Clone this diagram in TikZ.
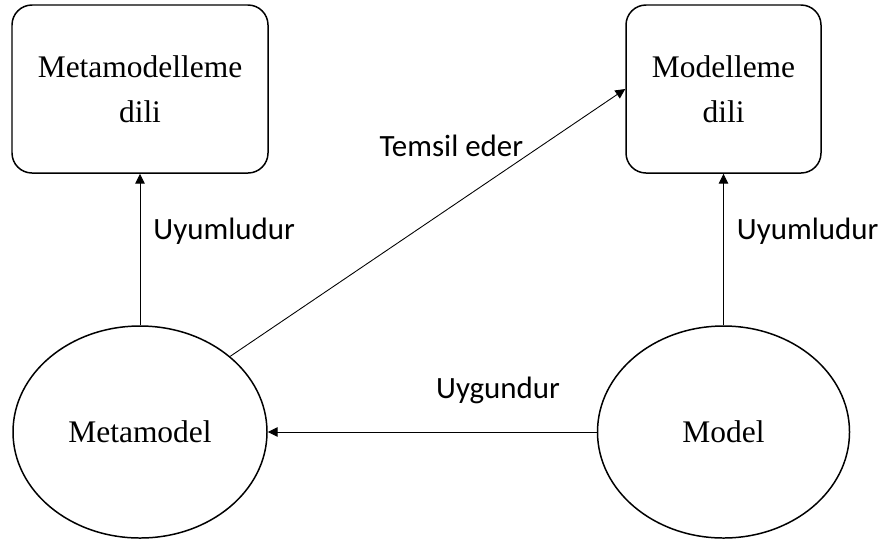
\documentclass[tikz,border=0pt]{standalone}
\usepackage{fontspec}
\setmainfont{Liberation Serif}
\newfontfamily\calibri{Carlito}
\usepackage{tikz}
\usetikzlibrary{arrows.meta, shapes.geometric, positioning}
\tikzstyle{kutu} = [draw, rounded corners=0.4cm, line width=0.85pt, inner sep=0pt, align=center, font=\fontsize{17.9}{25.6}\selectfont]
\tikzstyle{elips} = [draw, ellipse, line width=0.85pt, inner sep=0pt, font=\fontsize{17.9}{25.6}\selectfont]
\tikzstyle{ok} = [-{Triangle[length=5.6pt,width=5.4pt]}, line width=0.5pt]
\tikzstyle{etiket} = [inner sep=0pt, font=\calibri\fontsize{17.6}{21}\selectfont]

\begin{document}
\begin{tikzpicture}
	\useasboundingbox (0,0) rectangle (17.68,10.84);

	\node[kutu, minimum width=5.12cm, minimum height=3.36cm] (MML) at (2.8,9.06) {Metamodelleme\\dili};
	\node[kutu, minimum width=3.9cm, minimum height=3.36cm] (ML) at (14.47,9.06) {Modelleme\\dili};

	\node[elips, minimum width=5.08cm, minimum height=4.24cm] (MM) at (2.8,2.2) {Metamodel};
	\node[elips, minimum width=5.04cm, minimum height=4.24cm] (M) at (14.47,2.2) {Model};

	\draw[ok] (MM.north) -- node[etiket, pos=0.62, right=0.26cm] (U1) {Uyumludur} (MML.south);
	\draw[ok] (M.north) -- node[etiket, pos=0.62, right=0.26cm] (U2) {Uyumludur} (ML.south);

	\draw[ok] (M.west) -- node[etiket, pos=0.3, above=0.56cm] (UY) {Uygundur} (MM.east);

	\draw[ok] (MM.40) -- node[etiket, pos=0.56, above=0.99cm] (TE) {Temsil eder} (ML.west);

\end{tikzpicture}
\end{document}
